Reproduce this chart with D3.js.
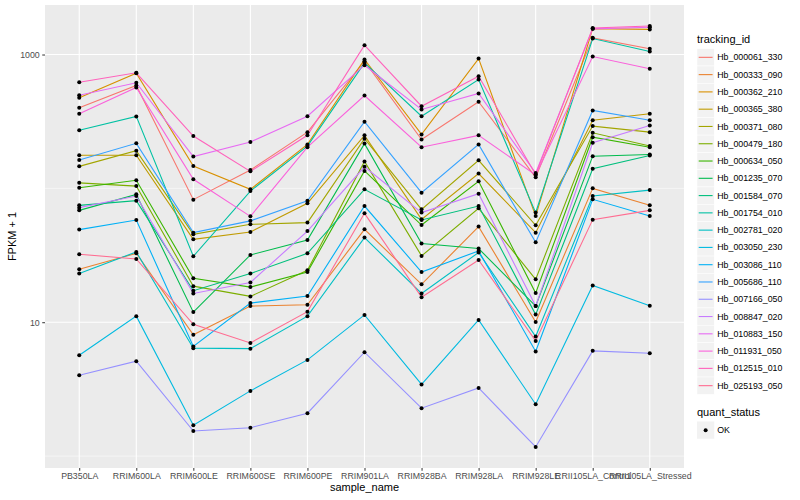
<!DOCTYPE html>
<html>
<head>
<meta charset="utf-8">
<script src="https://cdn.jsdelivr.net/npm/d3@7"></script>
<style>
  body { margin: 0; background: #fff; }
  svg { font-family: "Liberation Sans", Arial, sans-serif; }
</style>
</head>
<body>
<div id="chart"></div>
<script>
const width = 800;
const height = 500;
const marginTop = 5;
const marginRight = 116;
const marginBottom = 32;
const marginLeft = 45;

// Data
const samples = ["PB350LA", "RRIM600LA", "RRIM600LE", "RRIM600SE", "RRIM600PE", "RRIM901LA",
  "RRIM928BA", "RRIM928LA", "RRIM928LE", "RRII105LA_Control", "RRII105LA_Stressed"];

const trackingIds = ["Hb_000061_330", "Hb_000333_090", "Hb_000362_210", "Hb_000365_380", "Hb_000371_080",
  "Hb_000479_180", "Hb_000634_050", "Hb_001235_070", "Hb_001584_070", "Hb_001754_010",
  "Hb_002781_020", "Hb_003050_230", "Hb_003086_110", "Hb_005686_110", "Hb_007166_050",
  "Hb_008847_020", "Hb_010883_150", "Hb_011931_050", "Hb_012515_010", "Hb_025193_050"];

// FPKM + 1, one array per gene, in sample order
const hb_000061_330 = [400, 587, 82.4, 137, 263, 891, 232, 444, 121, 1332, 1103];
const hb_000333_090 = [24.9, 32.7, 8.07, 13.2, 13.5, 49.4, 19.2, 51.8, 10.05, 100, 74.7];
const hb_000362_210 = [475, 725, 147, 98.3, 213, 918, 253, 933, 62.1, 1560, 1540];
const hb_000365_380 = [177, 177, 41.6, 47.2, 77.3, 249, 58.7, 129, 46.7, 323, 361];
const hb_000371_080 = [146, 191, 45.4, 53.9, 55.5, 235, 69.7, 162, 53, 292, 263];
const hb_000479_180 = [110, 104, 18.6, 15.6, 24.4, 159, 31.3, 70.9, 20.9, 260, 207];
const hb_000634_050 = [101, 115, 21.3, 18.3, 23.7, 135, 53.2, 113, 16.5, 241, 203];
const hb_001235_070 = [68.5, 90.2, 11.9, 31.8, 41.1, 216, 38.7, 35.5, 13.2, 174, 179];
const hb_001584_070 = [74.7, 80.9, 17.2, 23.1, 32.7, 98.3, 58, 73.8, 11.4, 140, 176];
const hb_001754_010 = [272, 345, 31.1, 95.5, 207, 867, 346, 651, 65.9, 1316, 1053];
const hb_002781_020 = [23.1, 33.5, 6.4, 6.35, 11.1, 42.9, 16.4, 33.2, 7.82, 87.6, 97.1];
const hb_003050_230 = [5.67, 11.1, 1.70, 3.07, 5.23, 11.34, 3.43, 10.4, 2.44, 18.8, 13.3];
const hb_003086_110 = [49.2, 58, 6.59, 13.9, 15.7, 73.8, 23.7, 34.1, 6.04, 82.8, 62.1];
const hb_005686_110 = [163, 217, 46.7, 57.2, 80.7, 315, 92.9, 213, 39.5, 382, 323];
const hb_007166_050 = [4.02, 5.12, 1.54, 1.63, 2.09, 5.97, 2.28, 3.23, 1.17, 6.11, 5.87];
const hb_008847_020 = [71.8, 87.6, 16.4, 19.8, 48, 145, 65.9, 91.3, 13.2, 219, 295];
const hb_010883_150 = [497, 615, 173, 222, 346, 832, 389, 512, 130, 1555, 1599];
const hb_011931_050 = [361, 567, 117, 61.8, 203, 494, 203, 249, 126, 966, 782];
const hb_012515_010 = [621, 730, 246, 134, 249, 1173, 411, 689, 127, 1577, 1632];
const hb_025193_050 = [32.2, 29.7, 9.66, 7.0, 12.0, 65.1, 15.4, 29.2, 7.25, 58.4, 68.5];

const seriesValues = [hb_000061_330, hb_000333_090, hb_000362_210, hb_000365_380, hb_000371_080,
  hb_000479_180, hb_000634_050, hb_001235_070, hb_001584_070, hb_001754_010,
  hb_002781_020, hb_003050_230, hb_003086_110, hb_005686_110, hb_007166_050,
  hb_008847_020, hb_010883_150, hb_011931_050, hb_012515_010, hb_025193_050];

const yTicks = [10, 1000];
const yMinor = [1, 100];

// ggplot default hue palette for 20 levels
const colors = ["#F8766D", "#EA8331", "#D89000", "#C09B00", "#A3A500", "#7CAE00", "#39B600", "#00BB4E",
  "#00BF7D", "#00C1A3", "#00BFC4", "#00BAE0", "#00B0F6", "#35A2FF", "#9590FF", "#C77CFF",
  "#E76BF3", "#FA62DB", "#FF62BC", "#FF6C91"];

const series = trackingIds.map((id, i) => ({
  id,
  color: colors[i],
  values: samples.map((s, j) => ({sample: s, value: seriesValues[i][j]}))
}));

const svg = d3.select("#chart").append("svg")
    .attr("width", width)
    .attr("height", height)
    .attr("viewBox", [0, 0, width, height]);

// Scales
const x = d3.scalePoint()
    .domain(samples)
    .range([marginLeft, width - marginRight])
    .padding(0.6);

const allValues = seriesValues.flat();
const logExt = d3.extent(allValues, v => Math.log10(v));
const pad = (logExt[1] - logExt[0]) * 0.05;
const y = d3.scaleLog()
    .domain([Math.pow(10, logExt[0] - pad), Math.pow(10, logExt[1] + pad)])
    .range([height - marginBottom, marginTop]);

// Panel
svg.append("rect")
    .attr("x", marginLeft)
    .attr("y", marginTop)
    .attr("width", width - marginRight - marginLeft)
    .attr("height", height - marginBottom - marginTop)
    .attr("fill", "#EBEBEB");

// Grid
const grid = svg.append("g").attr("stroke", "#fff");
grid.selectAll(".minor")
    .data(yMinor)
    .join("line")
    .attr("x1", marginLeft)
    .attr("x2", width - marginRight)
    .attr("y1", d => y(d))
    .attr("y2", d => y(d))
    .attr("stroke-width", 0.55);
grid.selectAll(".major")
    .data(yTicks)
    .join("line")
    .attr("x1", marginLeft)
    .attr("x2", width - marginRight)
    .attr("y1", d => y(d))
    .attr("y2", d => y(d))
    .attr("stroke-width", 1.1);
grid.append("g").selectAll("line")
    .data(samples)
    .join("line")
    .attr("x1", d => x(d))
    .attr("x2", d => x(d))
    .attr("y1", marginTop)
    .attr("y2", height - marginBottom)
    .attr("stroke-width", 1.1);

// Lines
const line = d3.line()
    .x(d => x(d.sample))
    .y(d => y(d.value));

svg.append("g")
    .attr("fill", "none")
    .attr("stroke-width", 1.1)
    .selectAll("path")
    .data(series)
    .join("path")
    .attr("stroke", d => d.color)
    .attr("d", d => line(d.values));

// Points
svg.append("g")
    .attr("fill", "#000")
    .selectAll("circle")
    .data(series.flatMap(d => d.values))
    .join("circle")
    .attr("cx", d => x(d.sample))
    .attr("cy", d => y(d.value))
    .attr("r", 2);

// Axes
const xAxis = svg.append("g")
    .attr("transform", `translate(0,${height - marginBottom})`)
    .call(d3.axisBottom(x).tickSize(2.75).tickPadding(2.5))
    .call(g => g.select(".domain").remove());
xAxis.selectAll("line").attr("stroke", "#333");
xAxis.selectAll("text").attr("fill", "#4D4D4D").attr("font-size", 8.8)
    .attr("font-family", "Liberation Sans, Arial, sans-serif");

const yAxis = svg.append("g")
    .attr("transform", `translate(${marginLeft},0)`)
    .call(d3.axisLeft(y).tickValues(yTicks).tickFormat(d3.format("d")).tickSize(2.75).tickPadding(2.5))
    .call(g => g.select(".domain").remove());
yAxis.selectAll("line").attr("stroke", "#333");
yAxis.selectAll("text").attr("fill", "#4D4D4D").attr("font-size", 8.8)
    .attr("font-family", "Liberation Sans, Arial, sans-serif");

// Axis titles
svg.append("text")
    .attr("x", (marginLeft + width - marginRight) / 2)
    .attr("y", 491)
    .attr("text-anchor", "middle")
    .attr("font-size", 11)
    .text("sample_name");

svg.append("text")
    .attr("transform", `translate(16,${(marginTop + height - marginBottom) / 2}) rotate(-90)`)
    .attr("text-anchor", "middle")
    .attr("font-size", 11)
    .text("FPKM + 1");

// Legend: tracking_id
const legendX = 697;
const keySize = 17.28;
const legend = svg.append("g").attr("transform", `translate(${legendX},0)`);
legend.append("text")
    .attr("x", 0)
    .attr("y", 43)
    .attr("font-size", 11)
    .text("tracking_id");

const item = legend.selectAll(".item")
    .data(series)
    .join("g")
    .attr("transform", (d, i) => `translate(0,${48.7 + i * keySize})`);
item.append("rect")
    .attr("width", keySize)
    .attr("height", keySize)
    .attr("fill", "#F2F2F2")
    .attr("stroke", "#fff")
    .attr("stroke-width", 0.5);
item.append("line")
    .attr("x1", 1.7)
    .attr("x2", keySize - 1.7)
    .attr("y1", keySize / 2)
    .attr("y2", keySize / 2)
    .attr("stroke", d => d.color)
    .attr("stroke-width", 1.1);
item.append("text")
    .attr("x", keySize + 3)
    .attr("y", keySize / 2)
    .attr("dy", "0.35em")
    .attr("font-size", 8.8)
    .text(d => d.id);

// Legend: quant_status
const qs = svg.append("g").attr("transform", `translate(${legendX},0)`);
qs.append("text")
    .attr("x", 0)
    .attr("y", 416)
    .attr("font-size", 11)
    .text("quant_status");
qs.append("rect")
    .attr("y", 421.5)
    .attr("width", keySize)
    .attr("height", keySize)
    .attr("fill", "#F2F2F2");
qs.append("circle")
    .attr("cx", keySize / 2)
    .attr("cy", 421.5 + keySize / 2)
    .attr("r", 2);
qs.append("text")
    .attr("x", keySize + 3)
    .attr("y", 421.5 + keySize / 2)
    .attr("dy", "0.35em")
    .attr("font-size", 8.8)
    .text("OK");
</script>
</body>
</html>
